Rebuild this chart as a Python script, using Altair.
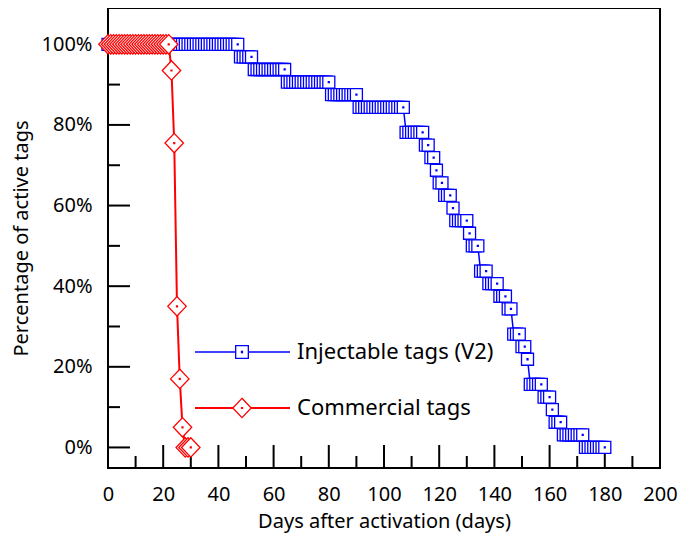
import altair as alt
import pandas as pd

# ---------------- data ----------------
# Injectable tags (V2): percentage level and the first day each level is reached
blue_levels = [100, 96.875, 93.75, 90.625, 87.5, 84.375, 78.125, 75, 71.875, 68.75,
               65.625, 62.5, 59.375, 56.25, 53.125, 50, 43.75, 40.625, 37.5, 34.375,
               28.125, 25, 21.875, 15.625, 12.5, 9.375, 6.25, 3.125, 0]
blue_first_day = [0, 48, 53, 65, 81, 91, 108, 115, 117, 119,
                  120, 122, 125, 126, 131, 132, 135, 138, 142, 145,
                  147, 150, 152, 153, 158, 161, 162, 165, 173]
blue_final_day = 180

# Commercial tags
red_levels = [100, 93.5, 75.5, 35, 17, 5, 0]
red_first_day = [0, 23, 24, 25, 26, 27, 28]
red_final_day = 30

legend_labels = ["Injectable tags (V2)", "Commercial tags"]

x_major_ticks = [0, 20, 40, 60, 80, 100, 120, 140, 160, 180, 200]
x_minor_ticks = [10, 30, 50, 70, 90, 110, 130, 150, 170, 190]
y_major_ticks = [0, 20, 40, 60, 80, 100]
y_minor_ticks = [10, 30, 50, 70, 90]


def daily_readings(levels, firsts, final):
    rows = []
    for i, (lv, f) in enumerate(zip(levels, firsts)):
        last = firsts[i + 1] - 1 if i + 1 < len(firsts) else final
        for d in range(f, last + 1):
            rows.append({"day": d, "pct": lv})
    return pd.DataFrame(rows)


blue_df = daily_readings(blue_levels, blue_first_day, blue_final_day)
red_df = daily_readings(red_levels, red_first_day, red_final_day)

BLUE = "#0000ff"
RED = "#ff0000"
FONT = "Noto Sans"
SQ = "M-1,-1L1,-1L1,1L-1,1Z M-0.08,-0.08L0.08,-0.08L0.08,0.08L-0.08,0.08Z"
DI = "M0,-1.05L1,0L0,1.05L-1,0Z M-0.05,-0.05L0.05,-0.05L0.05,0.05L-0.05,0.05Z"

W, H = 552, 460
xs = alt.Scale(domain=[0, 200], nice=False, zero=False)
ys = alt.Scale(domain=[-5.1, 109], nice=False, zero=False)

x_axis = alt.Axis(values=x_major_ticks, ticks=False, tickSize=0, domain=False, grid=False,
                  labelFlush=False, labelOverlap=False,
                  labelFontSize=20, labelPadding=16, title="Days after activation (days)",
                  titleFontSize=20, titlePadding=7)
y_axis = alt.Axis(values=y_major_ticks, ticks=False, tickSize=0, domain=False, grid=False,
                  labelFlush=False, labelOverlap=False,
                  labelFontSize=20, labelPadding=16, labelExpr="datum.value + '%'",
                  title="Percentage of active tags", titleFontSize=20, titlePadding=10)


def X(field):
    return alt.X(field, scale=xs, axis=x_axis)


def Y(field):
    return alt.Y(field, scale=ys, axis=y_axis)


# inward ticks
def yticks(vals, length):
    return alt.Chart(pd.DataFrame({"v": vals})).mark_rule(color="black", strokeWidth=2).encode(
        y=Y("v:Q"), x=alt.value(0), x2=alt.value(length))


def xticks(vals, length):
    return alt.Chart(pd.DataFrame({"v": vals})).mark_rule(color="black", strokeWidth=2).encode(
        x=X("v:Q"), y=alt.value(H), y2=alt.value(H - length))


blue_line = alt.Chart(blue_df).mark_line(color=BLUE, strokeWidth=1.5).encode(
    x=X("day:Q"), y=Y("pct:Q"), order="day:Q")
blue_pts = alt.Chart(blue_df).mark_point(shape=SQ, size=144, filled=True, fill="white",
                                          stroke=BLUE, strokeWidth=1.3, opacity=1).encode(
    x=X("day:Q"), y=Y("pct:Q"))
red_line = alt.Chart(red_df).mark_line(color=RED, strokeWidth=2).encode(
    x=X("day:Q"), y=Y("pct:Q"), order="day:Q")
red_pts = alt.Chart(red_df).mark_point(shape=DI, size=340, filled=True, fill="white",
                                        stroke=RED, strokeWidth=1.3, opacity=1).encode(
    x=X("day:Q"), y=Y("pct:Q"))


def legend_row(label, color, shape, size, ypix, lw):
    d = alt.Data(values=[{"label": label}])
    base = alt.Chart(d)
    ln = base.mark_rule(color=color, strokeWidth=lw).encode(
        x=alt.value(87), x2=alt.value(182), y=alt.value(ypix))
    pt = base.mark_point(shape=shape, size=size, filled=True, fill="white", stroke=color,
                         strokeWidth=1.3, opacity=1).encode(x=alt.value(134), y=alt.value(ypix))
    tx = base.mark_text(align="left", baseline="middle", fontSize=22, font=FONT,
                        color="black").encode(x=alt.value(189), y=alt.value(ypix), text="label:N")
    return ln + pt + tx


chart = alt.layer(
    blue_line,
    yticks(y_major_ticks, 22), yticks(y_minor_ticks, 12),
    xticks(x_major_ticks, 23), xticks(x_minor_ticks, 12),
    blue_pts, red_line, red_pts,
    legend_row(legend_labels[0], BLUE, SQ, 160, 344, 1.5),
    legend_row(legend_labels[1], RED, DI, 340, 400, 2),
).properties(
    width=W, height=H,
    padding={"left": 100, "top": 0, "right": 18, "bottom": 70},
    autosize=alt.AutoSizeParams(type="none"),
).configure_view(stroke="black", strokeWidth=2).configure_axis(
    labelFont=FONT, titleFont=FONT, labelColor="black", titleColor="black",
    titleFontWeight="normal")

chart.save("out.html", embed_options={"renderer": "svg", "actions": False})
